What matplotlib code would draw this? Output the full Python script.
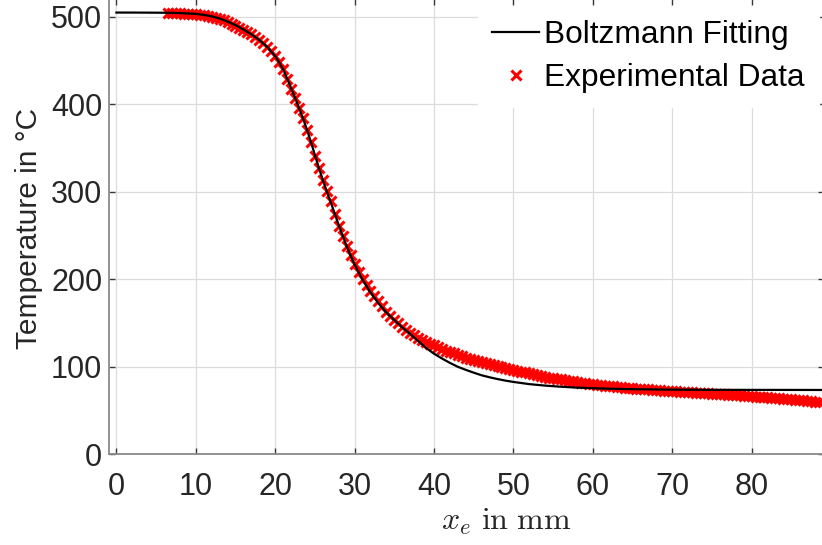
import matplotlib
matplotlib.use("Agg")
import matplotlib.pyplot as plt

# measured temperature along x_e (mm)
exp_x = [6.5, 7.0, 7.5, 8.0, 8.5, 9.0, 9.5, 10.0, 10.5, 11.0,
         11.5, 12.0, 12.5, 13.0, 13.5, 14.0, 14.5, 15.0, 15.5, 16.0,
         16.5, 17.0, 17.5, 18.0, 18.5, 19.0, 19.5, 20.0, 20.5, 21.0,
         21.5, 22.0, 22.5, 23.0, 23.5, 24.0, 24.5, 25.0, 25.5, 26.0,
         26.5, 27.0, 27.5, 28.0, 28.5, 29.0, 29.5, 30.0, 30.5, 31.0,
         31.5, 32.0, 32.5, 33.0, 33.5, 34.0, 34.5, 35.0, 35.5, 36.0,
         36.5, 37.0, 37.5, 38.0, 38.5, 39.0, 39.5, 40.0, 40.5, 41.0,
         41.5, 42.0, 42.5, 43.0, 43.5, 44.0, 44.5, 45.0, 45.5, 46.0,
         46.5, 47.0, 47.5, 48.0, 48.5, 49.0, 49.5, 50.0, 50.5, 51.0,
         51.5, 52.0, 52.5, 53.0, 53.5, 54.0, 54.5, 55.0, 55.5, 56.0,
         56.5, 57.0, 57.5, 58.0, 58.5, 59.0, 59.5, 60.0, 60.5, 61.0,
         61.5, 62.0, 62.5, 63.0, 63.5, 64.0, 64.5, 65.0, 65.5, 66.0,
         66.5, 67.0, 67.5, 68.0, 68.5, 69.0, 69.5, 70.0, 70.5, 71.0,
         71.5, 72.0, 72.5, 73.0, 73.5, 74.0, 74.5, 75.0, 75.5, 76.0,
         76.5, 77.0, 77.5, 78.0, 78.5, 79.0, 79.5, 80.0, 80.5, 81.0,
         81.5, 82.0, 82.5, 83.0, 83.5, 84.0, 84.5, 85.0, 85.5, 86.0,
         86.5, 87.0, 87.5, 88.0, 88.5]
exp_T = [504.0, 504.0, 504.0, 504.0, 503.5, 503.5, 503.0, 503.0, 502.5, 502.0,
         501.0, 500.0, 499.0, 497.5, 496.0, 494.0, 492.0, 490.0, 487.5, 485.0,
         482.5, 480.0, 477.0, 474.0, 470.0, 466.0, 461.0, 455.0, 448.0, 440.0,
         429.0, 418.0, 407.0, 396.0, 384.0, 371.0, 357.0, 341.0, 327.0, 313.0,
         301.0, 289.0, 275.0, 261.0, 249.0, 238.0, 228.0, 218.0, 208.0, 200.0,
         193.0, 187.0, 181.0, 175.0, 169.0, 163.0, 158.0, 154.0, 150.0, 146.0,
         142.0, 139.0, 136.0, 133.0, 130.5, 128.5, 126.5, 124.5, 122.5, 120.5,
         118.5, 117.0, 115.5, 114.0, 112.0, 110.5, 109.0, 108.0, 106.5, 105.5,
         104.0, 103.0, 102.0, 101.0, 99.5, 98.5, 97.5, 96.5, 95.5, 94.5,
         93.5, 92.5, 91.5, 90.5, 89.5, 88.5, 87.7, 87.0, 86.2, 85.5,
         84.8, 84.0, 83.3, 82.6, 82.0, 81.3, 80.7, 80.0, 79.5, 79.0,
         78.5, 78.0, 77.5, 77.1, 76.7, 76.3, 75.9, 75.5, 75.1, 74.8,
         74.4, 74.1, 73.8, 73.5, 73.2, 72.9, 72.6, 72.3, 72.0, 71.7,
         71.4, 71.1, 70.8, 70.5, 70.2, 69.9, 69.6, 69.3, 69.0, 68.7,
         68.4, 68.1, 67.8, 67.5, 67.2, 66.9, 66.6, 66.3, 66.0, 65.6,
         65.3, 65.0, 64.6, 64.2, 63.9, 63.5, 63.1, 62.7, 62.3, 61.9,
         61.5, 61.1, 60.7, 60.3, 60.0]

# Boltzmann fit curve
fit_x = [0, 2, 4, 6, 8, 10, 11, 12, 13, 14, 15, 16, 17, 18, 19, 20,
         20.5, 21, 21.5, 22, 22.5, 23, 23.5, 24, 24.5, 25, 25.5, 26,
         26.5, 27, 27.5, 28, 28.5, 29, 29.5, 30, 31, 32, 33, 34, 35,
         36, 37, 38, 39, 40, 41, 42, 43, 44, 45, 46, 47, 48, 49, 50,
         52, 54, 56, 58, 60, 62, 65, 70, 75, 80, 90]
fit_T = [504.8, 504.8, 504.7, 504.6, 504.2, 503.3, 502.2, 500.5, 498.0, 494.5,
         490.5, 485.5, 480.0, 473.5, 465.5, 455.0, 448.0, 440.0, 429.5, 418.5,
         407.5, 396.0, 384.0, 371.0, 357.0, 342.0, 327.5, 313.5, 300.5, 288.0,
         275.0, 262.0, 250.0, 238.0, 227.0, 217.0, 199.5, 185.0, 172.5, 162.0,
         153.5, 145.0, 137.5, 129.5, 121.5, 115.0, 109.5, 104.5, 100.0, 96.5,
         93.3, 90.3, 88.0, 86.0, 84.2, 82.7, 80.2, 78.5, 77.2, 76.2,
         75.5, 75.0, 74.4, 73.9, 73.7, 73.6, 73.5]

x_ticks = [0, 10, 20, 30, 40, 50, 60, 70, 80]
y_ticks = [0, 100, 200, 300, 400, 500]

plt.rcParams['font.family'] = ['Liberation Sans', 'DejaVu Sans']
plt.rcParams['mathtext.fontset'] = 'cm'

fig = plt.figure(figsize=(8.22, 5.45), dpi=100)
ax = fig.add_axes([109.3 / 822, 90.7 / 545, 714.7 / 822, 455.3 / 545])

exp_line, = ax.plot(exp_x, exp_T, linestyle='none', marker='x', color='red',
                    markersize=7, markeredgewidth=2.2, zorder=2,
                    label='Experimental Data')
fit_line, = ax.plot(fit_x, fit_T, color='black', linewidth=1.6, zorder=3,
                    label='Boltzmann Fitting')

ax.set_xlim(-0.894, 89.12)
ax.set_ylim(0, 520.3)
ax.set_xticks(x_ticks)
ax.set_yticks(y_ticks)

ax.grid(True, color='#dcdcdc', linewidth=0.9)
ax.set_axisbelow(True)
for side in ['top', 'right']:
    ax.spines[side].set_visible(False)
for side in ['left', 'bottom']:
    ax.spines[side].set_color('#8a8a8a')
    ax.spines[side].set_linewidth(1.3)

ax.tick_params(direction='in', length=4, width=1.0, color='#3a3a3a',
               labelsize=22, labelcolor='#262626', top=True, right=True)
ax.tick_params(axis='x', pad=13)
ax.tick_params(axis='y', pad=5)

ax.set_ylabel('Temperature in °C', fontsize=21.5, color='#262626', va='center')
ax.yaxis.set_label_coords(-0.113, 0.497)
ax.set_xlabel(r'$x_e\ \mathrm{in\ mm}$', fontsize=23, color='#262626', va='center')
ax.xaxis.set_label_coords(0.556, -0.149)

leg = ax.legend(handles=[fit_line, exp_line], loc='upper right',
                bbox_to_anchor=(0.993, 0.985), fontsize=22.8, frameon=True,
                fancybox=False, framealpha=1, facecolor='white',
                edgecolor='white', handlelength=1.5, handletextpad=0.15,
                labelspacing=0.4, borderpad=0.45, borderaxespad=0)
for t in leg.get_texts():
    t.set_color('black')

fig.savefig('out.png', dpi=100)
